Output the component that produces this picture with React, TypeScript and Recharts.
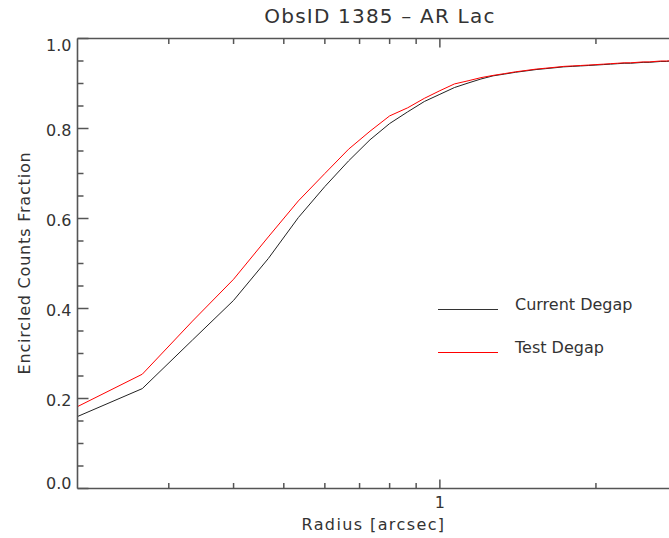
import React from "react";
import { LineChart, Line, XAxis, YAxis } from "recharts";

// radius in arcsec (log axis)
const radius = [
  0.2, 0.2667, 0.3333, 0.4, 0.4667, 0.5333, 0.6, 0.6667, 0.7333, 0.8,
  0.8667, 0.9333, 1.0, 1.0667, 1.1333, 1.2, 1.2667, 1.3333, 1.4, 1.4667,
  1.5333, 1.6, 1.6667, 1.7333, 1.8, 1.8667, 1.9333, 2.0, 2.0667, 2.1333,
  2.2, 2.2667, 2.3333, 2.4, 2.4667, 2.5333, 2.6, 2.6667, 2.7333, 2.8,
];

const currentDegap = [
  0.16, 0.222, 0.33, 0.418, 0.511, 0.602, 0.671, 0.728, 0.775, 0.811,
  0.837, 0.86, 0.876, 0.891, 0.901, 0.91, 0.917, 0.921, 0.925, 0.928,
  0.931, 0.933, 0.935, 0.937, 0.938, 0.939, 0.94, 0.941, 0.942, 0.943,
  0.944, 0.945, 0.945, 0.946, 0.947, 0.947, 0.948, 0.949, 0.949, 0.95,
];

const testDegap = [
  0.182, 0.254, 0.372, 0.465, 0.559, 0.639, 0.7, 0.754, 0.794, 0.828,
  0.846, 0.867, 0.884, 0.899, 0.906, 0.913, 0.918, 0.922, 0.926, 0.929,
  0.932, 0.934, 0.936, 0.938, 0.939, 0.94, 0.941, 0.942, 0.943, 0.944,
  0.945, 0.946, 0.946, 0.947, 0.948, 0.948, 0.949, 0.95, 0.95, 0.951,
];

const xTicks = [0.3, 0.4, 0.5, 0.6, 0.7, 0.8, 0.9, 1, 2];
const xLabels = [1];
const yTicks = [
  0, 0.05, 0.1, 0.15, 0.2, 0.25, 0.3, 0.35, 0.4, 0.45, 0.5,
  0.55, 0.6, 0.65, 0.7, 0.75, 0.8, 0.85, 0.9, 0.95, 1,
];
const yLabels = [0, 0.2, 0.4, 0.6, 0.8, 1];

const data = radius.map((r, i) => ({
  r,
  current: currentDegap[i],
  test: testDegap[i],
}));

const AXIS = "#555";
const FONT = "'DejaVu Sans', sans-serif";
const TEXT = "#333";

const isLabel = (list: number[], v: number) =>
  list.some((l) => Math.abs(l - v) < 1e-6);

const BottomTick = (props: any) => {
  const { x, y, payload } = props;
  const major = isLabel(xLabels, payload.value);
  return (
    <g>
      <line x1={x} x2={x} y1={y} y2={y - (major ? 9 : 5.5)} stroke={AXIS} strokeWidth={1.5} />
      {major && (
        <text x={x} y={y + 19} textAnchor="middle" fontSize={16} fill={TEXT} fontFamily={FONT}>
          {payload.value}
        </text>
      )}
    </g>
  );
};

const TopTick = (props: any) => {
  const { x, y, payload } = props;
  const major = isLabel(xLabels, payload.value);
  return (
    <line x1={x} x2={x} y1={y} y2={y + (major ? 9 : 5.5)} stroke={AXIS} strokeWidth={1.5} />
  );
};

const LeftTick = (props: any) => {
  const { x, y, payload } = props;
  const v = payload.value;
  const major = isLabel(yLabels, v);
  let dy = 7;
  if (v === 1) dy = 12.5;
  if (v === 0) dy = 0;
  return (
    <g>
      <line x1={x} x2={x + (major ? 11 : 6)} y1={y} y2={y} stroke={AXIS} strokeWidth={1.5} />
      {major && (
        <text x={x - 6} y={y + dy} textAnchor="end" fontSize={16} fill={TEXT} fontFamily={FONT}>
          {v.toFixed(1)}
        </text>
      )}
    </g>
  );
};

const textStyle: React.CSSProperties = {
  position: "absolute",
  fontFamily: FONT,
  color: TEXT,
  whiteSpace: "nowrap",
  lineHeight: 1,
};

export default function App() {
  return (
    <div
      style={{
        position: "absolute",
        left: 0,
        top: 0,
        width: 669,
        height: 538,
        overflow: "hidden",
        background: "#fff",
      }}
    >
      <LineChart
        width={672}
        height={538}
        data={data}
        margin={{ top: 37.5, right: 0.3, bottom: 48.5, left: 76.5 }}
      >
        <XAxis
          dataKey="r"
          type="number"
          scale="log"
          domain={[0.2, 2.8]}
          ticks={xTicks}
          interval={0}
          height={1}
          tickSize={0}
          tickMargin={0}
          tickLine={false}
          axisLine={{ stroke: AXIS, strokeWidth: 1.6 }}
          tick={BottomTick}
        />
        <XAxis
          xAxisId="top"
          orientation="top"
          dataKey="r"
          type="number"
          scale="log"
          domain={[0.2, 2.8]}
          ticks={xTicks}
          interval={0}
          height={1}
          tickSize={0}
          tickMargin={0}
          tickLine={false}
          axisLine={{ stroke: AXIS, strokeWidth: 1.6 }}
          tick={TopTick}
        />
        <YAxis
          type="number"
          domain={[0, 1]}
          ticks={yTicks}
          interval={0}
          width={1}
          tickSize={0}
          tickMargin={0}
          tickLine={false}
          axisLine={{ stroke: AXIS, strokeWidth: 1.6 }}
          tick={LeftTick}
        />
        <Line
          dataKey="current"
          type="linear"
          stroke="#222"
          strokeWidth={1}
          dot={false}
          isAnimationActive={false}
        />
        <Line
          dataKey="test"
          type="linear"
          stroke="#ff0000"
          strokeWidth={1}
          dot={false}
          isAnimationActive={false}
        />
      </LineChart>

      <div style={{ ...textStyle, left: 0, width: 760, top: 6, textAlign: "center", fontSize: 20, letterSpacing: 1.2 }}>
        ObsID 1385 – AR Lac
      </div>
      <div style={{ ...textStyle, left: 0, width: 747, top: 517, textAlign: "center", fontSize: 16, letterSpacing: 1.4 }}>
        Radius [arcsec]
      </div>
      <div
        style={{
          ...textStyle,
          left: 25,
          top: 263,
          fontSize: 16,
          letterSpacing: 0.8,
          transform: "translate(-50%, -50%) rotate(-90deg)",
        }}
      >
        Encircled Counts Fraction
      </div>

      <div style={{ position: "absolute", left: 438, top: 308.5, width: 60, height: 1, background: "#333" }} />
      <div style={{ ...textStyle, left: 515, top: 297, fontSize: 16 }}>Current Degap</div>
      <div style={{ position: "absolute", left: 438, top: 351.5, width: 60, height: 1, background: "#ff0000" }} />
      <div style={{ ...textStyle, left: 515, top: 340, fontSize: 16 }}>Test Degap</div>
    </div>
  );
}
